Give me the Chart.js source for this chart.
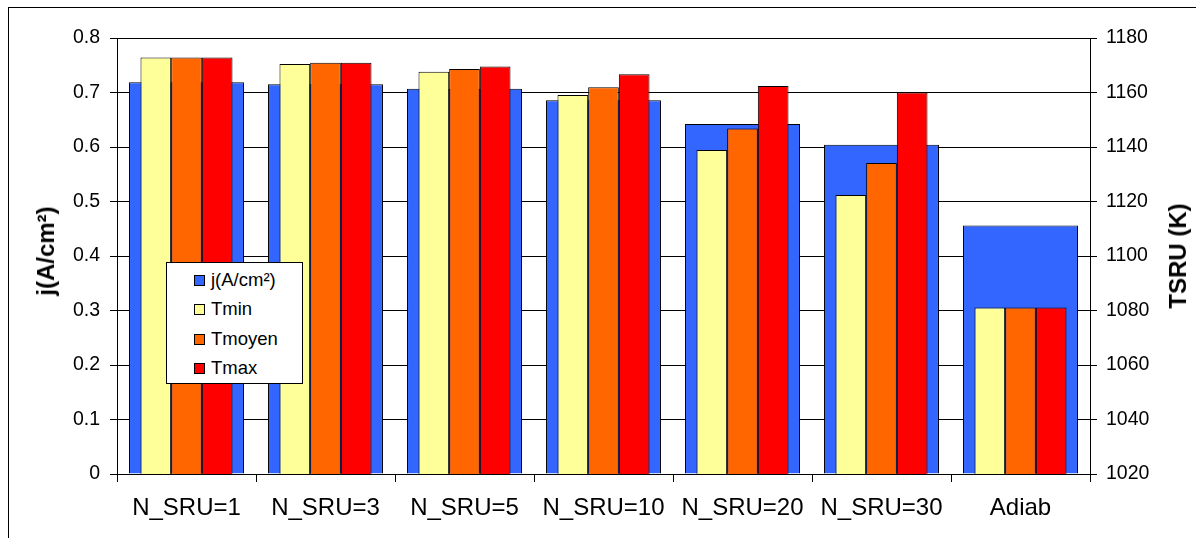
<!DOCTYPE html>
<html>
<head>
<meta charset="utf-8">
<script src="https://cdn.jsdelivr.net/npm/chart.js@4"></script>
<style>
  html, body { margin: 0; padding: 0; background: #fff; }
  .wrap { position: relative; width: 1196px; height: 538px; overflow: hidden; font-family: "Liberation Sans", Arial, sans-serif; }
  .frame { position: absolute; left: 8px; top: 7px; width: 1300px; height: 600px; border-left: 1px solid #000; border-top: 1px solid #000; }
  canvas { position: absolute; left: 0; top: 0; }
  .legend { position: absolute; left: 166px; top: 262px; width: 137px; height: 122px; border: 1px solid #000; background: #fff; box-sizing: border-box; }
  .legend div { position: absolute; left: 27px; font-size: 18.5px; line-height: 20px; color: #000; white-space: nowrap; }
  .legend span { display: inline-block; width: 9px; height: 9px; border: 1px solid #000; margin-right: 6px; vertical-align: 0px; }
  .title { position: absolute; transform: translate(-50%, -50%) rotate(-90deg); font-weight: bold; font-size: 24px; white-space: nowrap; color: #000; }
</style>
</head>
<body>
<div class="wrap">
  <div class="frame"></div>
  <canvas id="barchart" width="1196" height="538"></canvas>
  <div class="legend" id="legend"></div>
  <div class="title" style="left:46px; top:251px;">j(A/cm²)</div>
  <div class="title" style="left:1178px; top:256px;">TSRU (K)</div>
</div>
<script>
const categories = ['N_SRU=1', 'N_SRU=3', 'N_SRU=5', 'N_SRU=10', 'N_SRU=20', 'N_SRU=30', 'Adiab'];
const jValues = [0.719, 0.715, 0.707, 0.686, 0.642, 0.604, 0.456];
const tMin = [1172.8, 1170.5, 1167.6, 1159.1, 1138.9, 1122.4, 1081.1];
const tMoyen = [1172.8, 1170.9, 1168.6, 1161.9, 1146.8, 1134.1, 1081.1];
const tMax = [1172.8, 1170.9, 1169.5, 1166.7, 1162.4, 1160.0, 1081.1];

const legendItems = [
  ['j(A/cm²)', '#3366FF'],
  ['Tmin', '#FFFF99'],
  ['Tmoyen', '#FF6600'],
  ['Tmax', '#FF0000']
];

// html legend inside the plot
const legendBox = document.getElementById('legend');
legendItems.forEach((item, i) => {
  const row = document.createElement('div');
  row.style.top = (7 + i * 29.3) + 'px';
  row.innerHTML = '<span style="background:' + item[1] + '"></span>' + item[0];
  legendBox.appendChild(row);
});

const tickFont = { family: '"Liberation Sans", Arial, sans-serif', size: 19.5 };

const ctx = document.getElementById('barchart');

new Chart(ctx, {
  type: 'bar',
  data: {
    labels: categories,
    datasets: [
      { label: 'Tmin', data: tMin, yAxisID: 'y1', backgroundColor: '#FFFF99', borderColor: '#000', borderWidth: 1, categoryPercentage: 0.662, barPercentage: 1 },
      { label: 'Tmoyen', data: tMoyen, yAxisID: 'y1', backgroundColor: '#FF6600', borderColor: '#000', borderWidth: 1, categoryPercentage: 0.662, barPercentage: 1 },
      { label: 'Tmax', data: tMax, yAxisID: 'y1', backgroundColor: '#FF0000', borderColor: '#000', borderWidth: 1, categoryPercentage: 0.662, barPercentage: 1 },
      // wide blue bar sits behind the three temperature bars
      { label: 'j(A/cm²)', data: jValues, yAxisID: 'y', backgroundColor: '#3366FF', borderColor: '#000', borderWidth: 1, grouped: false, categoryPercentage: 0.827, barPercentage: 1 }
    ]
  },
  options: {
    responsive: false,
    animation: false,
    layout: { padding: { top: 38, left: 0, right: 0, bottom: 0 } },
    plugins: {
      legend: { display: false },
      tooltip: { enabled: false }
    },
    scales: {
      x: {
        grid: { display: true, drawOnChartArea: false, color: '#000', tickLength: 8, offset: true },
        border: { color: '#000', width: 1 },
        ticks: { color: '#000', font: { family: tickFont.family, size: 24 }, padding: 12, maxRotation: 0, autoSkip: false },
        afterFit: scale => { scale.height = 64; }
      },
      y: {
        position: 'left',
        min: 0,
        max: 0.8,
        ticks: { stepSize: 0.1, color: '#000', font: tickFont, padding: 10, callback: v => Math.round(v * 10) / 10 },
        grid: { color: '#000', tickLength: 7 },
        border: { color: '#000', width: 1 },
        afterFit: scale => { scale.width = 117; }
      },
      y1: {
        position: 'right',
        min: 1020,
        max: 1180,
        ticks: { stepSize: 20, color: '#000', font: tickFont, padding: 9, callback: v => String(v) },
        grid: { drawOnChartArea: false, color: '#000', tickLength: 7 },
        border: { color: '#000', width: 1 },
        afterFit: scale => { scale.width = 106; }
      }
    }
  }
});
</script>
</body>
</html>
